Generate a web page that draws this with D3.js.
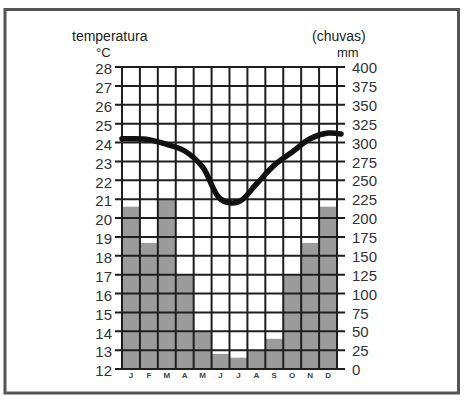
<!DOCTYPE html>
<html>
<head>
<meta charset="utf-8">
<script src="https://cdn.jsdelivr.net/npm/d3@7"></script>
<style>
  body { margin: 0; background: #fff; }
  svg { display: block; font-family: "Liberation Sans", Arial, sans-serif; }
</style>
</head>
<body>
<div id="chart"></div>
<script>
// months, rain (mm) and temperature (°C)
var months = ["J", "F", "M", "A", "M", "J", "J", "A", "S", "O", "N", "D"];
var rainMm = [215, 167, 224, 125, 50, 20, 15, 25, 40, 125, 167, 215];
var tempC = [24.2, 24.15, 23.9, 23.55, 22.7, 21.0, 20.85, 21.8, 22.8, 23.5, 24.2, 24.5];
var tempTicks = d3.range(12, 29);
var rainTicks = d3.range(0, 401, 25);

var W = 465, H = 400;
var plot = {left: 122, right: 337, top: 67, bottom: 369};

var svg = d3.select("#chart").append("svg")
    .attr("width", W)
    .attr("height", H);

// frame
svg.append("rect")
    .attr("x", 5).attr("y", 9.5)
    .attr("width", 453.5).attr("height", 383.5)
    .attr("fill", "#fff")
    .attr("stroke", "#555")
    .attr("stroke-width", 3);

var idx = months.map(function(d, i) { return i; });

var x = d3.scaleBand()
    .domain(idx)
    .range([plot.left, plot.right])
    .padding(0);

var yT = d3.scaleLinear().domain([12, 28]).range([plot.bottom, plot.top]);
var yR = d3.scaleLinear().domain([0, 400]).range([plot.bottom, plot.top]);

// rain bars
svg.append("g").selectAll("rect")
    .data(rainMm)
    .enter().append("rect")
    .attr("x", function(d, i) { return x(i); })
    .attr("y", function(d) { return yR(d); })
    .attr("width", x.bandwidth())
    .attr("height", function(d) { return yR(0) - yR(d); })
    .attr("fill", "#9b9b9b");

// grid
var grid = svg.append("g").attr("stroke", "#1e1e1e").attr("stroke-width", 2);
grid.selectAll("line.h")
    .data(tempTicks)
    .enter().append("line")
    .attr("class", "h")
    .attr("x1", plot.left - 7)
    .attr("x2", plot.right + 8)
    .attr("y1", function(d) { return yT(d); })
    .attr("y2", function(d) { return yT(d); });

grid.selectAll("line.v")
    .data(d3.range(months.length + 1))
    .enter().append("line")
    .attr("class", "v")
    .attr("x1", function(i) { return plot.left + i * x.bandwidth(); })
    .attr("x2", function(i) { return plot.left + i * x.bandwidth(); })
    .attr("y1", plot.top)
    .attr("y2", plot.bottom);

// axes labels
var yAxisL = d3.axisLeft(yT).tickValues(tempTicks).tickSize(0).tickPadding(10);
var gL = svg.append("g")
    .attr("transform", "translate(" + plot.left + ",0)")
    .call(yAxisL);
gL.select(".domain").remove();
gL.selectAll("text")
    .attr("font-size", 15)
    .attr("fill", "#333")
    .attr("dy", "0.45em")
    .style("font-family", "Liberation Sans, Arial, sans-serif");

var yAxisR = d3.axisRight(yR).tickValues(rainTicks).tickSize(0).tickPadding(15);
var gR = svg.append("g")
    .attr("transform", "translate(" + plot.right + ",0)")
    .call(yAxisR);
gR.select(".domain").remove();
gR.selectAll("text")
    .attr("font-size", 15)
    .attr("fill", "#333")
    .attr("dy", "0.38em")
    .style("font-family", "Liberation Sans, Arial, sans-serif");

// month labels
svg.append("g").selectAll("text")
    .data(months)
    .enter().append("text")
    .attr("x", function(d, i) { return x(i) + x.bandwidth() / 2; })
    .attr("y", 378)
    .attr("text-anchor", "middle")
    .attr("font-size", 8)
    .attr("font-weight", "bold")
    .attr("fill", "#444")
    .text(function(d) { return d; });

// temperature line (extended flat to plot edges)
var pts = tempC.map(function(d, i) { return [x(i) + x.bandwidth() / 2, yT(d)]; });
pts.unshift([plot.left, yT(tempC[0])]);
pts.push([plot.right + 4, yT(tempC[tempC.length - 1] - 0.05)]);

svg.append("path")
    .datum(pts)
    .attr("fill", "none")
    .attr("stroke", "#111")
    .attr("stroke-width", 5.5)
    .attr("stroke-linecap", "round")
    .attr("stroke-linejoin", "round")
    .attr("d", d3.line().curve(d3.curveCatmullRom.alpha(0.5)));

// titles
svg.append("text").attr("x", 72).attr("y", 41)
    .attr("font-size", 14).attr("fill", "#222").text("temperatura");
svg.append("text").attr("x", 96).attr("y", 57)
    .attr("font-size", 13).attr("fill", "#222").text("°C");
svg.append("text").attr("x", 312).attr("y", 41)
    .attr("font-size", 14).attr("fill", "#222").text("(chuvas)");
svg.append("text").attr("x", 337).attr("y", 57)
    .attr("font-size", 13).attr("fill", "#222").text("mm");
</script>
</body>
</html>
